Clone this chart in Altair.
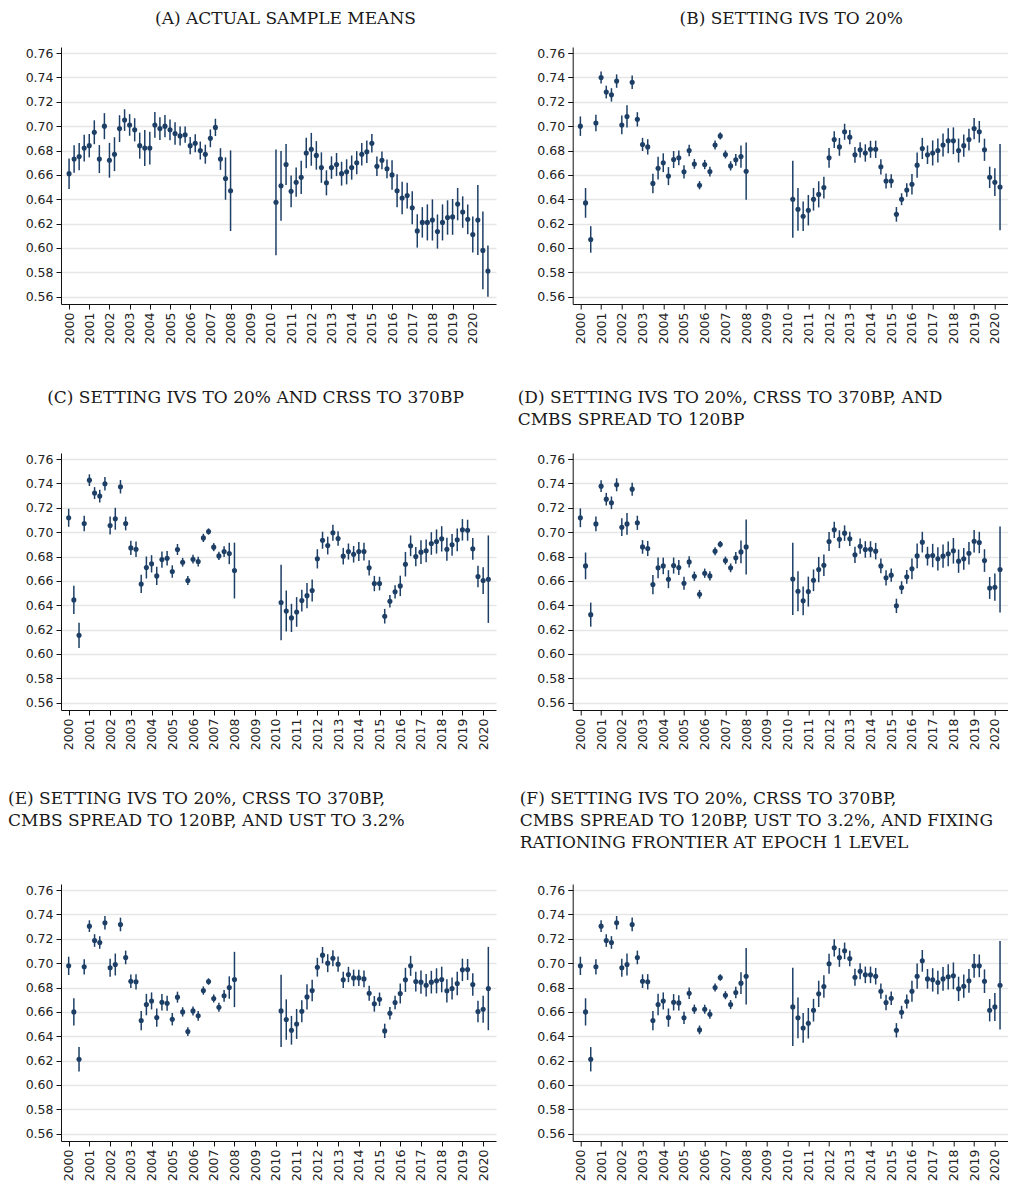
import altair as alt
import pandas as pd

# ---------------- data ----------------
def quarters(y0, q0, y1, q1):
    out, y, q = [], y0, q0
    while (y, q) <= (y1, q1):
        out.append(y + (q - 1) / 4)
        q += 1
        if q > 4:
            q, y = 1, y + 1
    return out

dates_a = quarters(2000, 1, 2008, 1) + quarters(2010, 2, 2020, 4)
dates_bf = quarters(2000, 1, 2008, 1) + quarters(2010, 2, 2020, 2)

a_mean = [0.661, 0.673, 0.675, 0.682, 0.684, 0.695, 0.673, 0.700, 0.672, 0.677, 0.698, 0.705, 0.701, 0.697, 0.684, 0.682, 0.682,
          0.701, 0.698, 0.700, 0.697, 0.694, 0.692, 0.693, 0.684, 0.686, 0.680, 0.677, 0.690, 0.699, 0.673, 0.657, 0.647,
          0.6375, 0.651, 0.6685, 0.6465, 0.654, 0.658, 0.678, 0.681, 0.676, 0.666, 0.6535, 0.666, 0.6685, 0.661, 0.6625, 0.666,
          0.670, 0.677, 0.679, 0.686, 0.667, 0.672, 0.665, 0.660, 0.647, 0.641, 0.643, 0.633, 0.614, 0.621, 0.621, 0.623,
          0.6135, 0.621, 0.625, 0.6255, 0.636, 0.6295, 0.6235, 0.611, 0.623, 0.598, 0.581]
a_hw = [0.0125, 0.0113, 0.0111, 0.011, 0.0096, 0.0098, 0.0115, 0.0107, 0.0143, 0.0139, 0.011, 0.0089, 0.0089, 0.0095, 0.0107, 0.0148,
        0.0135, 0.0106, 0.0093, 0.0091, 0.0085, 0.0093, 0.0078, 0.0067, 0.0071, 0.0074, 0.0074, 0.0078, 0.0073, 0.0071, 0.0089, 0.0174, 0.0331,
        0.0434, 0.0287, 0.0169, 0.013, 0.012, 0.0137, 0.0125, 0.0135, 0.0117, 0.0125, 0.0103, 0.0092, 0.0095, 0.0098, 0.0103, 0.0099,
        0.0095, 0.0092, 0.0092, 0.0076, 0.008, 0.0073, 0.0077, 0.0121, 0.0136, 0.0133, 0.0106, 0.0136, 0.0137, 0.0125, 0.0148, 0.0169,
        0.014, 0.0148, 0.0141, 0.0147, 0.0133, 0.0129, 0.0122, 0.0148, 0.0288, 0.0319, 0.021]

b_mean = [0.700, 0.637, 0.607, 0.7026, 0.740, 0.728, 0.7257, 0.737, 0.701, 0.708, 0.736, 0.7056, 0.685, 0.683, 0.653, 0.6655, 0.670,
          0.659, 0.6726, 0.674, 0.6625, 0.680, 0.669, 0.6515, 0.6685, 0.6627, 0.6845, 0.692, 0.6768, 0.6674, 0.6724, 0.675, 0.663,
          0.640, 0.6317, 0.626, 0.631, 0.640, 0.644, 0.6496, 0.674, 0.689, 0.683, 0.6954, 0.691, 0.6765, 0.6806, 0.678, 0.681, 0.681,
          0.6666, 0.655, 0.655, 0.6276, 0.640, 0.6476, 0.6523, 0.668, 0.6817, 0.6765, 0.678, 0.680, 0.6845, 0.688, 0.688, 0.680,
          0.684, 0.689, 0.698, 0.6954, 0.6806, 0.658, 0.654, 0.650]
b_hw = [0.008, 0.0122, 0.0109, 0.0067, 0.0049, 0.0052, 0.0055, 0.0055, 0.0077, 0.0091, 0.0055, 0.0059, 0.0054, 0.0063, 0.008, 0.0093,
        0.0077, 0.0074, 0.007, 0.006, 0.0054, 0.0047, 0.004, 0.0034, 0.0038, 0.004, 0.0037, 0.0029, 0.0033, 0.0038, 0.0048, 0.0091, 0.0235,
        0.0316, 0.0176, 0.0121, 0.0125, 0.0093, 0.0107, 0.0089, 0.0081, 0.0069, 0.0073, 0.0066, 0.0059, 0.0065, 0.0063, 0.0071, 0.007,
        0.0071, 0.0062, 0.0062, 0.0055, 0.006, 0.0049, 0.0055, 0.0084, 0.0103, 0.0087, 0.0076, 0.0103, 0.0098, 0.0095, 0.0103, 0.011,
        0.0098, 0.0091, 0.0089, 0.0087, 0.0089, 0.0091, 0.0088, 0.0114, 0.0354]

c_mean = [0.7118, 0.6444, 0.6153, 0.7071, 0.7427, 0.7321, 0.7296, 0.7397, 0.7055, 0.711, 0.7373, 0.7071, 0.6871, 0.686, 0.6575, 0.671,
          0.674, 0.6641, 0.6775, 0.6786, 0.6677, 0.6858, 0.6753, 0.6603, 0.6778, 0.6759, 0.6953, 0.7005, 0.6877, 0.6805, 0.6841, 0.6825, 0.6685,
          0.6422, 0.6353, 0.6296, 0.6345, 0.6438, 0.6479, 0.6521, 0.6781, 0.6934, 0.689, 0.6995, 0.6948, 0.6803, 0.6841, 0.6819, 0.6841,
          0.6841, 0.6707, 0.6578, 0.6578, 0.631, 0.6433, 0.651, 0.6559, 0.6737, 0.6888, 0.680, 0.6836, 0.6847, 0.6907, 0.6923, 0.6945,
          0.686, 0.6896, 0.6937, 0.7019, 0.7016, 0.6863, 0.6636, 0.6603, 0.6614]
c_hw = [0.0074, 0.0116, 0.0104, 0.0063, 0.0048, 0.0049, 0.0053, 0.0055, 0.0074, 0.009, 0.0055, 0.0056, 0.0058, 0.0064, 0.0075, 0.009,
        0.0071, 0.0075, 0.0067, 0.006, 0.0051, 0.0045, 0.0036, 0.0037, 0.0036, 0.004, 0.0034, 0.0026, 0.0033, 0.0034, 0.0044, 0.0088, 0.0229,
        0.031, 0.0168, 0.0116, 0.0122, 0.009, 0.0104, 0.009, 0.0079, 0.007, 0.0073, 0.0066, 0.006, 0.0068, 0.0066, 0.0068, 0.0078,
        0.0073, 0.0063, 0.0063, 0.0056, 0.006, 0.0052, 0.0055, 0.0084, 0.0101, 0.0085, 0.0079, 0.0097, 0.0093, 0.0093, 0.0099, 0.0104,
        0.0095, 0.009, 0.0093, 0.0088, 0.0086, 0.009, 0.0088, 0.011, 0.0359]

d_mean = [0.7118, 0.6723, 0.6323, 0.7068, 0.7378, 0.7271, 0.7241, 0.7389, 0.7041, 0.7068, 0.7353, 0.7077, 0.6879, 0.6866, 0.657, 0.6707,
          0.6723, 0.6614, 0.6726, 0.671, 0.6581, 0.6756, 0.6638, 0.649, 0.6663, 0.6641, 0.6844, 0.6901, 0.6767, 0.6707, 0.6789, 0.6838, 0.6879,
          0.6616, 0.6515, 0.6436, 0.6512, 0.6605, 0.6693, 0.6729, 0.6923, 0.7019, 0.6942, 0.6992, 0.6945, 0.6814, 0.6885, 0.6858, 0.686,
          0.6844, 0.6723, 0.6625, 0.6647, 0.6395, 0.6545, 0.6633, 0.6699, 0.6805, 0.6918, 0.6803, 0.6808, 0.6781, 0.6803, 0.6822, 0.6847,
          0.6762, 0.6781, 0.6827, 0.6926, 0.6915, 0.6767, 0.6542, 0.6548, 0.6693]
d_hw = [0.0077, 0.011, 0.0099, 0.006, 0.0048, 0.0052, 0.0052, 0.0053, 0.0073, 0.0089, 0.0053, 0.0058, 0.0056, 0.0062, 0.0079, 0.0086,
        0.0068, 0.0074, 0.0066, 0.0062, 0.0053, 0.0047, 0.0038, 0.0036, 0.0038, 0.0038, 0.0033, 0.0027, 0.0033, 0.0036, 0.0048, 0.0093, 0.0226,
        0.0297, 0.0164, 0.0118, 0.0123, 0.0089, 0.0104, 0.0088, 0.0078, 0.0067, 0.0073, 0.0064, 0.0059, 0.0067, 0.0063, 0.0068, 0.0066,
        0.0068, 0.006, 0.0062, 0.0055, 0.0059, 0.0052, 0.0056, 0.0085, 0.0101, 0.0085, 0.0077, 0.0096, 0.0095, 0.0095, 0.0101, 0.0105,
        0.0096, 0.009, 0.0093, 0.0092, 0.0088, 0.0093, 0.009, 0.0112, 0.0353]

e_mean = [0.6978, 0.660, 0.6211, 0.697, 0.7304, 0.7186, 0.717, 0.7332, 0.6962, 0.6989, 0.7318, 0.7047, 0.6852, 0.6847, 0.6529, 0.666,
          0.669, 0.6553, 0.6679, 0.6671, 0.654, 0.6721, 0.660, 0.6438, 0.6608, 0.6567, 0.6775, 0.6849, 0.671, 0.6638, 0.6732, 0.680, 0.6866,
          0.6608, 0.6537, 0.6449, 0.6501, 0.6605, 0.6723, 0.6775, 0.6967, 0.7066, 0.700, 0.7041, 0.6992, 0.6863, 0.6907, 0.6879, 0.6879,
          0.6871, 0.6753, 0.6666, 0.6704, 0.6444, 0.6589, 0.6677, 0.6751, 0.6863, 0.6978, 0.6849, 0.6844, 0.6819, 0.6844, 0.6855, 0.6866,
          0.6773, 0.6792, 0.6833, 0.6945, 0.6948, 0.6825, 0.6603, 0.6622, 0.6792]
e_hw = [0.0075, 0.0112, 0.01, 0.0062, 0.0048, 0.0052, 0.0052, 0.0055, 0.0074, 0.009, 0.0056, 0.0056, 0.0056, 0.0063, 0.0079, 0.0088,
        0.007, 0.0075, 0.0067, 0.0062, 0.0051, 0.0045, 0.0038, 0.0036, 0.0037, 0.004, 0.0034, 0.0027, 0.0033, 0.0037, 0.0048, 0.0092, 0.0227,
        0.0297, 0.0166, 0.0118, 0.0123, 0.009, 0.0104, 0.0088, 0.0077, 0.0067, 0.0074, 0.0066, 0.0062, 0.0067, 0.0063, 0.0068, 0.0067,
        0.0068, 0.0062, 0.0064, 0.0055, 0.0059, 0.0051, 0.0056, 0.0082, 0.0099, 0.0082, 0.0081, 0.0096, 0.0093, 0.0093, 0.0103, 0.0105,
        0.0096, 0.009, 0.0096, 0.0092, 0.0086, 0.0093, 0.0089, 0.0111, 0.0342]

f_mean = [0.6978, 0.660, 0.6211, 0.697, 0.7304, 0.7186, 0.717, 0.7332, 0.6962, 0.6989, 0.7318, 0.7047, 0.6852, 0.6847, 0.6529, 0.666,
          0.669, 0.6553, 0.6679, 0.6674, 0.6551, 0.6753, 0.6622, 0.6452, 0.6622, 0.6581, 0.680, 0.6882, 0.6737, 0.666, 0.6759, 0.6836, 0.6893,
          0.6641, 0.6551, 0.6468, 0.6507, 0.6614, 0.6748, 0.6808, 0.6995, 0.7126, 0.7047, 0.7101, 0.7038, 0.6885, 0.6934, 0.6904, 0.6904,
          0.6893, 0.677, 0.6677, 0.6712, 0.6449, 0.6597, 0.6685, 0.677, 0.6893, 0.7019, 0.6871, 0.6863, 0.6841, 0.6871, 0.6888, 0.6896,
          0.6789, 0.6811, 0.6855, 0.6978, 0.6978, 0.6852, 0.6614, 0.6641, 0.6819]
f_hw = [0.0075, 0.0112, 0.01, 0.0062, 0.0048, 0.0052, 0.0052, 0.0055, 0.0074, 0.009, 0.0056, 0.0056, 0.0056, 0.0063, 0.0079, 0.0088,
        0.007, 0.0075, 0.0067, 0.0062, 0.0051, 0.0047, 0.0038, 0.0036, 0.0037, 0.0038, 0.0033, 0.0027, 0.0033, 0.0037, 0.0048, 0.009, 0.0232,
        0.0321, 0.0168, 0.0122, 0.0125, 0.0093, 0.0108, 0.0092, 0.0082, 0.0071, 0.0077, 0.0068, 0.0064, 0.007, 0.0066, 0.0068, 0.0068,
        0.0068, 0.0063, 0.0064, 0.0056, 0.0059, 0.0053, 0.0058, 0.0086, 0.0104, 0.0089, 0.0081, 0.0096, 0.0097, 0.0097, 0.0104, 0.011,
        0.01, 0.0095, 0.0097, 0.0097, 0.0093, 0.0097, 0.0092, 0.0115, 0.0364]

years = list(range(2000, 2021))
y_ticks = [0.56, 0.58, 0.60, 0.62, 0.64, 0.66, 0.68, 0.70, 0.72, 0.74, 0.76]

titles = {
    "a": ["(A) ACTUAL SAMPLE MEANS"],
    "b": ["(B) SETTING IVS TO 20%"],
    "c": ["(C) SETTING IVS TO 20% AND CRSS TO 370BP"],
    "d": ["(D) SETTING IVS TO 20%, CRSS TO 370BP, AND", "CMBS SPREAD TO 120BP"],
    "e": ["(E) SETTING IVS TO 20%, CRSS TO 370BP,", "CMBS SPREAD TO 120BP, AND UST TO 3.2%"],
    "f": ["(F) SETTING IVS TO 20%, CRSS TO 370BP,", "CMBS SPREAD TO 120BP, UST TO 3.2%, AND FIXING",
          "RATIONING FRONTIER AT EPOCH 1 LEVEL"],
}

# ---------------- styling ----------------
NAVY = "#1d3f66"
W, H = 435, 257
YDOM = [0.554, 0.765]


def panel(dates, mean, hw, key, xdom, anchor, dx, offset):
    df = pd.DataFrame({"t": dates, "m": mean,
                       "lo": [m - h for m, h in zip(mean, hw)],
                       "hi": [m + h for m, h in zip(mean, hw)]})
    xs = alt.X("t:Q", title=None,
               scale=alt.Scale(domain=xdom, nice=False, zero=False),
               axis=alt.Axis(values=years, format="d", labelAngle=270, grid=False,
                             tickSize=5, labelPadding=3, domainColor="#111", tickColor="#111",
                             labelFont="DejaVu Sans", labelFontSize=12.5, labelColor="#222"))
    yscale = alt.Scale(domain=YDOM, nice=False, zero=False)
    yaxis = alt.Axis(values=y_ticks, format=".2f", grid=True, gridColor="#e6e6e6", gridWidth=1.5,
                     tickSize=5, labelPadding=3, domainColor="#111", tickColor="#111",
                     labelFont="DejaVu Sans", labelFontSize=12.5, labelColor="#222")
    base = alt.Chart(df)
    bars = base.mark_rule(color=NAVY, strokeWidth=1.5).encode(
        x=xs, y=alt.Y("lo:Q", title=None, scale=yscale, axis=yaxis), y2="hi:Q")
    dots = base.mark_circle(color=NAVY, size=26, opacity=1).encode(
        x=xs, y=alt.Y("m:Q", title=None, scale=yscale, axis=yaxis))
    return alt.layer(bars, dots).properties(
        width=W, height=H,
        title=alt.TitleParams(text=titles[key], anchor=anchor, frame="group", dx=dx, offset=offset,
                              font="DejaVu Serif", fontSize=17, fontWeight="normal",
                              color="#1a1a1a", lineHeight=22))


def spacer(h):
    return alt.Chart(pd.DataFrame({"s": [0]})).mark_point(opacity=0).properties(width=W, height=h)


XA = [1999.6, 2021.15]
XO = [1999.63, 2020.62]

pa = panel(dates_a, a_mean, a_hw, "a", XA, "middle", 7, 19)
pb = panel(dates_bf, b_mean, b_hw, "b", XO, "middle", 1, 19)
pc = panel(dates_bf, c_mean, c_hw, "c", XO, "middle", -23, 46)
pd_ = panel(dates_bf, d_mean, d_hw, "d", XO, "start", -55, 24)
pe = panel(dates_bf, e_mean, e_hw, "e", XO, "start", -53, 54)
pf = panel(dates_bf, f_mean, f_hw, "f", XO, "start", -53, 32)

chart = alt.concat(pa, pb, spacer(148.7), spacer(148.7), pc, pd_, spacer(173.6), spacer(173.6), pe, pf,
                   columns=2, spacing={"row": 0, "column": 76.7}, bounds="flush").properties(
    padding={"top": 2, "left": 0, "right": 0, "bottom": 0}, background="white").configure_view(stroke=None)

chart.save("out.html", embed_options={"renderer": "svg", "actions": False})
